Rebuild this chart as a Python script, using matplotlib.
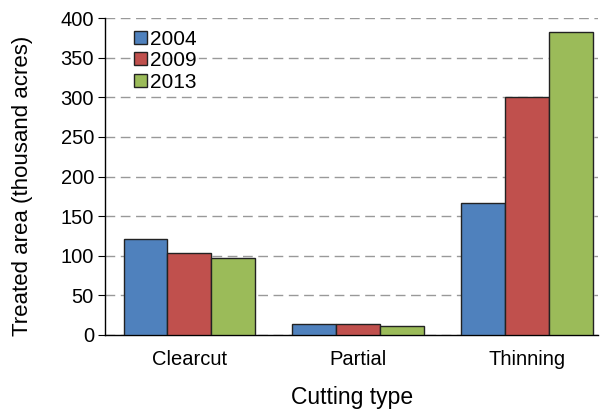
import numpy as np
import matplotlib.pyplot as plt

plt.rcParams['font.family'] = ['Liberation Sans', 'DejaVu Sans']

categories = ["Clearcut", "Partial", "Thinning"]
years = ["2004", "2009", "2013"]
area_2004 = [121, 14, 167]
area_2009 = [103, 14, 301]
area_2013 = [97, 11, 383]
colors = ["#4F81BD", "#C0504D", "#9BBB59"]

fig = plt.figure(figsize=(6, 4.11), dpi=100)
ax = fig.add_axes([0.175, 0.185, 0.822, 0.771])

x = np.arange(len(categories))
width = 0.26
for i, (vals, yr) in enumerate(zip([area_2004, area_2009, area_2013], years)):
    ax.bar(x + (i - 1) * width, vals, width, color=colors[i], edgecolor="#222222",
           linewidth=1.0, label=yr, zorder=3)

ax.set_xlim(-0.5, 2.42)
ax.set_ylim(0, 400)
ax.set_yticks(np.arange(0, 401, 50))
ax.set_xticks(x)
ax.set_xticklabels(categories)
ax.yaxis.grid(True, linestyle=(0, (7, 4)), color="#999999", linewidth=1.0, zorder=0)
ax.set_axisbelow(True)

for side in ["top", "right"]:
    ax.spines[side].set_visible(False)
ax.spines["left"].set_linewidth(1.0)
ax.spines["bottom"].set_linewidth(1.0)

ax.tick_params(axis="y", labelsize=14.5, direction="out", length=5, pad=3)
ax.tick_params(axis="x", labelsize=14.5, length=0, pad=11)
ax.set_xlabel("Cutting type", fontsize=16.5, labelpad=12)
ax.set_ylabel("Treated area (thousand acres)", fontsize=16, labelpad=14)
ax.yaxis.set_label_coords(-0.145, 0.47)

leg = ax.legend(loc="upper left", bbox_to_anchor=(0.055, 0.97), frameon=True,
                fontsize=15, handlelength=0.6, handleheight=0.6,
                handletextpad=0.15, labelspacing=0.12, borderpad=0.1,
                borderaxespad=0.0)
leg.get_frame().set_facecolor("white")
leg.get_frame().set_edgecolor("none")

fig.savefig("out.png", dpi=100)
